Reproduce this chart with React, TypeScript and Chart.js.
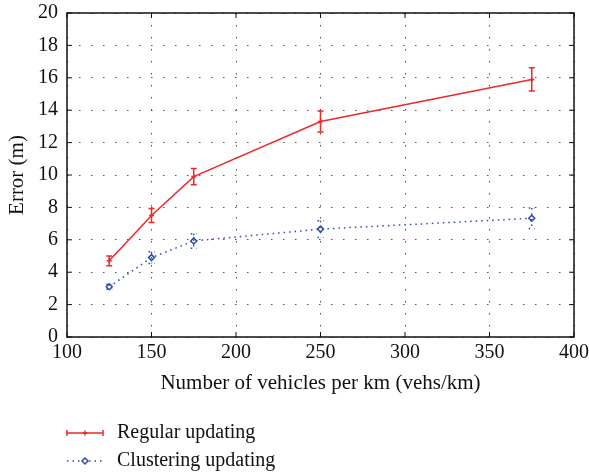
import { useEffect, useRef } from "react";
import { Chart, registerables } from "chart.js";

Chart.register(...registerables);

const vehicles = [125, 150, 175, 250, 375];
const regularError = [4.7, 7.5, 9.9, 13.3, 15.9];
const regularDev = [0.3, 0.43, 0.5, 0.65, 0.72];
const clusteringError = [3.1, 4.9, 5.93, 6.66, 7.33];
const clusteringDev = [0.15, 0.36, 0.45, 0.52, 0.63];
const seriesNames = ["Regular updating", "Clustering updating"];
const xTitle = "Number of vehicles per km (vehs/km)";
const yTitle = "Error (m)";

const RED = "rgb(238,40,44)";
const BLUE = "rgb(44,76,170)";
const FONT = "'Liberation Serif', 'Times New Roman', serif";

const deviations = [regularDev, clusteringDev];
const dashes: number[][] = [[], [1.5, 4]];

const framePlugin = {
  id: "frame",
  afterDatasetsDraw(chart: any) {
    const ctx = chart.ctx;
    const y = chart.scales.y;
    chart.data.datasets.forEach((ds: any, di: number) => {
      const meta = chart.getDatasetMeta(di);
      const devs = deviations[di];
      ctx.save();
      ctx.strokeStyle = ds.borderColor;
      ctx.lineWidth = 1.5;
      ctx.setLineDash(dashes[di]);
      meta.data.forEach((pt: any, i: number) => {
        const v = ds.data[i].y;
        const top = y.getPixelForValue(v + devs[i]);
        const bot = y.getPixelForValue(v - devs[i]);
        const cx = pt.x;
        ctx.beginPath();
        ctx.moveTo(cx, top);
        ctx.lineTo(cx, bot);
        ctx.moveTo(cx - 3, top);
        ctx.lineTo(cx + 3, top);
        ctx.moveTo(cx - 3, bot);
        ctx.lineTo(cx + 3, bot);
        ctx.stroke();
      });
      ctx.restore();
    });
  },
  afterDraw(chart: any) {
    const ctx = chart.ctx;
    const { left, right, top, bottom } = chart.chartArea;
    const xs = chart.scales.x;
    const ys = chart.scales.y;
    ctx.save();
    ctx.strokeStyle = "#111";
    ctx.lineWidth = 1.5;
    ctx.setLineDash([]);
    ctx.strokeRect(left, top, right - left, bottom - top);
    ctx.lineWidth = 1;
    ctx.beginPath();
    ys.ticks.forEach((t: any) => {
      const py = ys.getPixelForValue(t.value);
      ctx.moveTo(left, py);
      ctx.lineTo(left + 5, py);
      ctx.moveTo(right, py);
      ctx.lineTo(right - 5, py);
    });
    xs.ticks.forEach((t: any) => {
      const px = xs.getPixelForValue(t.value);
      ctx.moveTo(px, bottom);
      ctx.lineTo(px, bottom - 5);
      ctx.moveTo(px, top);
      ctx.lineTo(px, top + 5);
    });
    ctx.stroke();

    // legend
    const lx0 = left;
    const lx1 = left + 36;
    const lmid = (lx0 + lx1) / 2;
    const rows = [bottom + 96, bottom + 124];
    chart.data.datasets.forEach((ds: any, di: number) => {
      const ry = rows[di];
      ctx.save();
      ctx.strokeStyle = ds.borderColor;
      ctx.lineWidth = 1.5;
      ctx.setLineDash(dashes[di]);
      ctx.beginPath();
      ctx.moveTo(lx0, ry);
      ctx.lineTo(lx1, ry);
      if (di === 0) {
        ctx.moveTo(lx0, ry - 3);
        ctx.lineTo(lx0, ry + 3);
        ctx.moveTo(lx1, ry - 3);
        ctx.lineTo(lx1, ry + 3);
      }
      ctx.stroke();
      ctx.setLineDash([]);
      ctx.beginPath();
      if (di === 0) {
        ctx.moveTo(lmid - 2.5, ry);
        ctx.lineTo(lmid + 2.5, ry);
        ctx.moveTo(lmid, ry - 2.5);
        ctx.lineTo(lmid, ry + 2.5);
        ctx.stroke();
      } else {
        ctx.fillStyle = "#fff";
        ctx.moveTo(lmid, ry - 3);
        ctx.lineTo(lmid + 3, ry);
        ctx.lineTo(lmid, ry + 3);
        ctx.lineTo(lmid - 3, ry);
        ctx.closePath();
        ctx.fill();
        ctx.stroke();
      }
      ctx.restore();
      ctx.fillStyle = "#111";
      ctx.font = `20px ${FONT}`;
      ctx.textAlign = "left";
      ctx.textBaseline = "middle";
      ctx.fillText(seriesNames[di], lx1 + 14, ry);
    });
    ctx.restore();
  },
};

export default function App() {
  const ref = useRef<HTMLCanvasElement | null>(null);
  useEffect(() => {
    if (!ref.current) return;
    const chart = new Chart(ref.current, {
      type: "line",
      data: {
        datasets: [
          {
            label: seriesNames[0],
            data: vehicles.map((v, i) => ({ x: v, y: regularError[i] })),
            borderColor: RED,
            backgroundColor: RED,
            borderWidth: 1.5,
            pointStyle: "cross",
            pointRadius: 2.5,
            pointBorderWidth: 1.5,
            tension: 0,
          },
          {
            label: seriesNames[1],
            data: vehicles.map((v, i) => ({ x: v, y: clusteringError[i] })),
            borderColor: BLUE,
            backgroundColor: "#fff",
            borderWidth: 1.5,
            borderDash: [1.5, 4],
            pointStyle: "rectRot",
            pointRadius: 3,
            pointBorderWidth: 1.5,
            tension: 0,
          },
        ],
      },
      options: {
        animation: false,
        responsive: false,
        layout: { padding: { top: 13, right: 15, bottom: 78, left: 0 } },
        plugins: { legend: { display: false }, tooltip: { enabled: false } },
        scales: {
          x: {
            type: "linear",
            min: 100,
            max: 400,
            afterFit: (s: any) => {
              s.height = 60;
              s.paddingLeft = 0;
              s.paddingRight = 0;
            },
            ticks: {
              stepSize: 50,
              padding: 4,
              color: "#111",
              font: { family: FONT, size: 20 },
            },
            grid: { color: "#555", lineWidth: 1, drawTicks: false },
            border: { display: false, dash: [1.5, 10.5] },
            title: {
              display: true,
              text: xTitle,
              color: "#111",
              font: { family: FONT, size: 21 },
              padding: { top: 0, bottom: 1 },
            },
          },
          y: {
            min: 0,
            max: 20,
            afterFit: (s: any) => {
              s.width = 67;
              s.paddingTop = 0;
              s.paddingBottom = 0;
            },
            ticks: {
              stepSize: 2,
              padding: 9,
              color: "#111",
              font: { family: FONT, size: 20 },
            },
            grid: { color: "#555", lineWidth: 1, drawTicks: false },
            border: { display: false, dash: [1.5, 10.5] },
            title: {
              display: true,
              text: yTitle,
              color: "#111",
              font: { family: FONT, size: 21 },
              padding: { top: 5, bottom: 0 },
            },
          },
        },
      },
      plugins: [framePlugin],
    });
    return () => chart.destroy();
  }, []);
  return (
    <div style={{ position: "absolute", left: 0, top: 0, width: 589, height: 475, background: "#fff" }}>
      <canvas ref={ref} width={589} height={475} />
    </div>
  );
}
